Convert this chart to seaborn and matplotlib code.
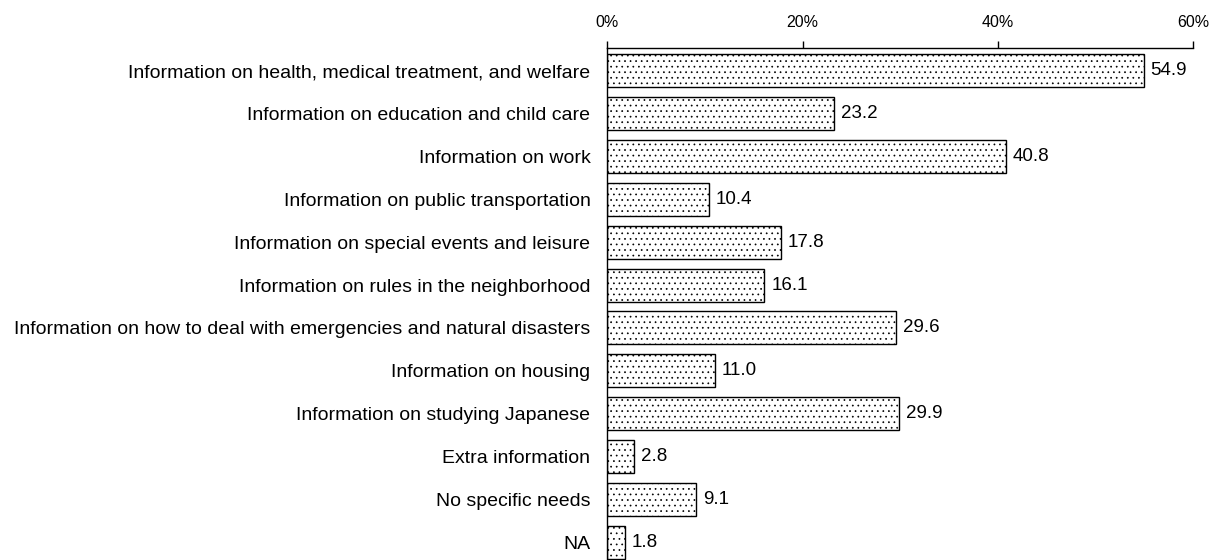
import matplotlib.pyplot as plt
import matplotlib.ticker as mticker
import seaborn as sns
import pandas as pd

categories = [
    "Information on health, medical treatment, and welfare",
    "Information on education and child care",
    "Information on work",
    "Information on public transportation",
    "Information on special events and leisure",
    "Information on rules in the neighborhood",
    "Information on how to deal with emergencies and natural disasters",
    "Information on housing",
    "Information on studying Japanese",
    "Extra information",
    "No specific needs",
    "NA",
]
values = [54.9, 23.2, 40.8, 10.4, 17.8, 16.1, 29.6, 11.0, 29.9, 2.8, 9.1, 1.8]
ticks = [0, 20, 40, 60]

df = pd.DataFrame({"Category": categories, "Percent": values})

sns.set_style("white")
plt.rcParams['font.family'] = ['Liberation Sans', 'DejaVu Sans']
plt.rcParams['text.color'] = 'black'
plt.rcParams['xtick.color'] = 'black'
plt.rcParams['ytick.color'] = 'black'
plt.rcParams['hatch.color'] = '#9a9a9a'
plt.rcParams['hatch.linewidth'] = 0.5

fig = plt.figure(figsize=(12.19, 5.6), dpi=100)
ax = fig.add_axes([0.498, 0.0, 0.481, 0.914])

sns.barplot(data=df, x="Percent", y="Category", orient="h", color="white",
            edgecolor="black", linewidth=1.0, width=0.77, ax=ax)

for bar in ax.patches:
    bar.set_hatch("...")

# Value labels
for bar, v in zip(ax.patches, values):
    ax.text(bar.get_width() + 0.7, bar.get_y() + bar.get_height() / 2,
            f"{v:.1f}", ha="left", va="center", fontsize=13.5, color="black")

ax.set_xlim(0, 60)
ax.set_ylim(11.41, -0.525)
ax.set_xticks(ticks)
ax.xaxis.set_major_formatter(mticker.FuncFormatter(lambda x, p: f"{x:.0f}%"))
ax.xaxis.tick_top()
ax.tick_params(axis="x", direction="out", length=5, width=1, colors="black",
               labelsize=11.5, pad=8, top=True, bottom=False)
ax.tick_params(axis="y", length=0, labelsize=14, pad=12)
ax.set_xlabel("")
ax.set_ylabel("")

for side in ["right", "bottom"]:
    ax.spines[side].set_visible(False)
for side in ["top", "left"]:
    ax.spines[side].set_color("black")
    ax.spines[side].set_linewidth(1)

plt.savefig("out.png", dpi=100)
plt.close()
